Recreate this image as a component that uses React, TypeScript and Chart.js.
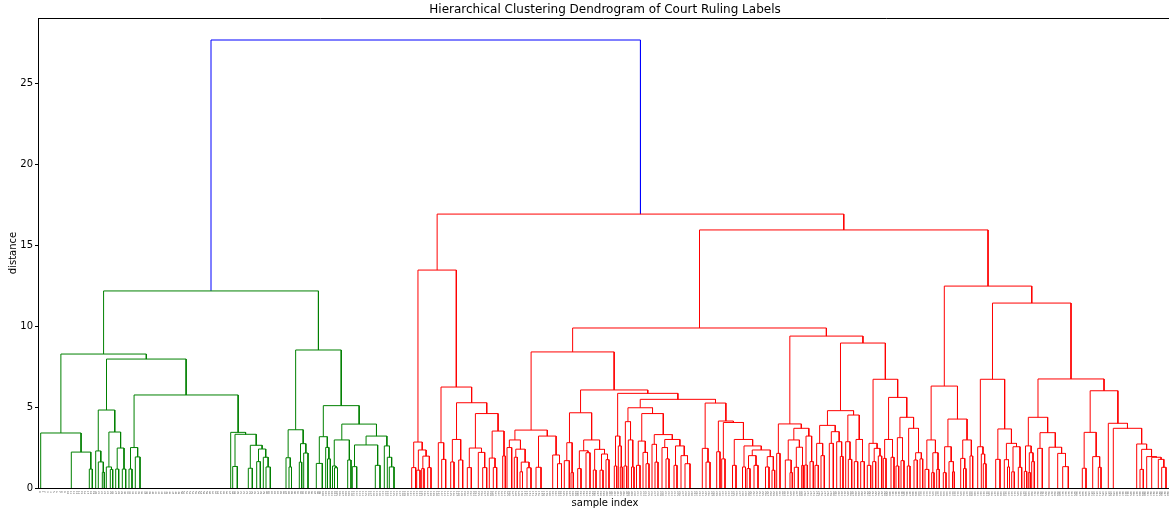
import React, { useEffect, useRef } from "react";
import { Chart, registerables } from "chart.js";

Chart.register(...registerables);

type Tree = number | [number, Tree, Tree];
const N = (h: number, a: Tree, b: Tree): Tree => [h, a, b];

const TITLE = "Hierarchical Clustering Dendrogram of Court Ruling Labels";
const X_LABEL = "sample index";
const Y_LABEL = "distance";
const Y_TICKS = [0, 5, 10, 15, 20, 25];
const Y_MAX = 29.05;
const X_MAX = 1131; // visible end of the leaf axis
const X_AXIS_END = 1134; // full extent of the leaf axis
const LEAF_COUNT = 400;
const ROOT_HEIGHT = 27.69;
const COLORS = { root: "#0000ff", green: "#008000", red: "#ff0000" };

// ---- green cluster ----
const greenLeft: Tree = N(8.28,
  N(3.40, 2.7, N(2.22, 33.3, N(1.17, 51.3, 54.3))),
  N(7.97,
    N(4.82,
      N(2.29, 57.7, N(1.61, 60.3, N(0.97, 64.3, 66.3))),
      N(3.46, N(1.30, 68.3, N(1.15, 72.3, 74.7)), N(2.47, N(1.17, 77.7, 80.7), N(1.17, 84.3, 87.7)))),
    N(5.75,
      N(2.50, N(1.17, 91, 94), N(1.92, 97.3, 102)),
      N(3.44, 192.7, N(3.32, N(1.33, 194.7, 199.3),
        N(2.64, N(1.22, 210.3, 214.3), N(2.41, N(1.63, 218.7, 222.3), N(1.90, 225.3, N(1.30, 228, 232.3)))))))));

const greenRightA: Tree = N(3.60,
  N(1.87, 248, N(1.30, 251, 253.5)),
  N(2.74, N(1.60, 261.3, 263.7), N(2.16, 265.7, 270)));

const greenRightB: Tree = N(5.09,
  N(3.17, N(1.52, 278.3, 284.3), N(2.51, 287.7, N(1.80, 289.5, 292.3))),
  N(3.95,
    N(2.97, N(1.36, 294.5, N(1.25, 296.5, 299.5)), N(1.73, 309.7, 313)),
    N(3.21,
      N(2.66, N(1.32, 314.3, 318.7), N(1.40, 337.3, 342)),
      N(2.60, 346.3, N(1.90, 349.3, N(1.30, 351.3, 356))))));

const GREEN: Tree = N(12.18, greenLeft, N(8.53, greenRightA, greenRightB));

// ---- red cluster ----
const redLeftA: Tree = N(2.84,
  N(1.26, 373.7, 377.7),
  N(2.35, N(1.10, 378.7, 382), N(1.97, N(1.20, 383.7, 386), N(1.26, 389.7, 393))));

const redLeftB: Tree = N(6.24,
  N(2.80, 400.3, N(1.77, 403.7, 407.7)),
  N(5.27,
    N(3.00, N(1.61, 412.7, 416), N(1.73, 420.7, 424.7)),
    N(4.60,
      N(2.47, N(1.26, 429.3, 433.3), N(2.20, 440.3, N(1.26, 444.7, 448.7))),
      N(3.52, N(1.85, 451.3, N(1.27, 455.3, 458.7)), N(1.98, 464.7, 467.3)))));

const redMidA1: Tree = N(3.58,
  N(2.97, N(2.50, 469, 473.7), N(2.40, N(1.90, 476.3, 479.3), N(1.60, N(1.00, 482, 484.5), N(1.25, 489, 493)))),
  N(3.21, N(1.28, 498, 503), N(2.04, 514.7, N(1.50, 519.5, 523.5))));

const redMidA2: Tree = N(4.65,
  N(2.80, N(1.69, 526.3, 531.3), N(0.95, 533, 535.3)),
  N(2.97,
    N(2.30, N(1.20, 539.7, 543), N(2.18, 548, 552)),
    N(2.39, N(1.11, 555.3, 558), N(2.10, N(1.10, 562, 565), N(1.75, 568, 571)))));

const redMidA3: Tree = N(4.96,
  N(4.10, N(1.36, 586, 588.7), N(2.97, 590.3, N(1.30, 593.5, 596))),
  N(4.60,
    N(2.90, N(1.40, 598.5, 602), N(2.20, 605, N(1.50, 608, 611))),
    N(3.30,
      N(2.70, 614, N(1.60, 617, 620)),
      N(3.00, N(2.50, 624, N(1.80, 628, 631)), N(2.60, N(1.40, 636, 639), N(2.00, 643, N(1.50, 647, 652)))))));

const redMidA4: Tree = N(5.25,
  N(2.45, 664.3, N(1.60, 668, 672)),
  N(4.14,
    N(2.24, 678.7, 682),
    N(4.05,
      N(1.80, 683.7, 687),
      N(3.00, N(1.40, 694.5, 698),
        N(2.60, N(1.30, 704.5, 707.5),
          N(2.35, N(2.00, N(1.20, 709, 712), N(1.40, 716, 720)),
            N(1.94, N(1.30, 727.5, 731), N(1.10, 734, 736.7))))))));

const redMidA: Tree = N(8.41,
  redMidA1,
  N(6.06, redMidA2,
    N(5.85, N(3.21, N(1.36, 576.3, 578.7), N(2.60, 580.3, N(1.30, 582.3, 584.3))),
      N(5.48, redMidA3, redMidA4))));

const redMidB1: Tree = N(3.96,
  N(2.14, 738.7, 742),
  N(3.69,
    N(2.97, N(1.73, 747.3, N(0.95, 752, 754.3)), N(2.52, N(1.28, 756.3, 760.3), N(1.40, 763.7, 765.3))),
    N(3.21, N(1.42, 766.7, 769.3), N(1.63, 772, 775.3))));

const redMidB2: Tree = N(4.78,
  N(3.87,
    N(2.76, N(1.40, 777, 780.3), N(2.00, 783, 786.3)),
    N(3.48, N(2.76, 791.3, 795.3), N(2.86, 798.7, N(1.95, 802.3, 805)))),
  N(4.51,
    N(2.86, 807.7, N(1.77, 810.3, 813.7)),
    N(3.00, N(1.63, 816.3, 819.7), N(1.63, 822.7, 826.3))));

const redMidB3: Tree = N(6.72,
  N(2.76, N(1.40, 829.3, 832.7), N(2.45, N(1.63, 834.7, 837.7), N(1.98, 840.3, 843.7))),
  N(5.60,
    N(3.00, N(1.83, 845.3, 848), N(1.90, 853, 856)),
    N(4.37,
      N(3.11, N(1.36, 858, 860.7), N(1.69, 863, 866)),
      N(3.69, N(1.36, 869.3, 872), N(2.18, N(1.73, 876, 879.3), N(1.80, 882, 884.7))))));

const redMidB: Tree = N(9.39, redMidB1, N(8.96, redMidB2, redMidB3));

const redRightA: Tree = N(6.30,
  N(2.97, N(1.15, 887, 890.7), N(2.18, N(0.95, 893.7, 896), N(1.15, 898.7, 901.3))),
  N(4.26,
    N(2.55, N(0.95, 905.3, 908), N(1.63, 911, N(1.00, 914.5, 916.3))),
    N(2.97, N(1.83, 922.7, N(1.20, 925.5, 928)), N(1.98, 932, 934.7))));

const redRightB: Tree = N(6.72,
  N(2.55, 939.7, N(2.10, 943.3, N(1.50, 945.3, 948))),
  N(3.65,
    N(1.77, 957.7, 962),
    N(2.76,
      N(1.75, 966.3, N(1.30, 969.5, 971.5)),
      N(2.55, N(1.00, 973.7, 976.3), N(1.28, 980.3, 983.7)))));

const redRightC: Tree = N(4.37,
  N(2.60, N(1.03, 986.3, 988.7), N(2.18, N(0.95, 990.3, 992.3), N(1.63, 993.7, 996.3))),
  N(3.42, N(2.45, 999.7, 1004.3), N(2.52, 1011, N(2.14, 1019.7, N(1.32, 1024.7, 1030.3)))));

const redRightD: Tree = N(6.01,
  N(3.44, N(1.22, 1044.3, 1048), N(1.94, 1054.7, N(1.28, 1060.3, 1063))),
  N(4.00, 1070.3,
    N(3.69, 1075.3,
      N(2.72, 1098.7,
        N(2.39, N(1.15, 1102, 1105.3),
          N(1.94, 1108.7, N(1.90, 1113.7, N(1.77, 1120.3, N(1.28, 1123.7, 1128)))))))));

const redRight: Tree = N(12.48, redRightA, N(11.43, redRightB, N(6.74, redRightC, redRightD)));

const RED: Tree = N(16.93,
  N(13.47, redLeftA, redLeftB),
  N(15.95, N(9.89, redMidA, redMidB), redRight));

type Pt = { x: number; y: number | null };

function layout(node: Tree, out: Pt[]): { x: number; h: number } {
  if (typeof node === "number") return { x: node, h: 0 };
  const [h, a, b] = node;
  const l = layout(a, out);
  const r = layout(b, out);
  out.push({ x: l.x, y: l.h }, { x: l.x, y: h }, { x: r.x, y: h }, { x: r.x, y: r.h }, { x: r.x, y: null });
  return { x: (l.x + r.x) / 2, h };
}

export default function App() {
  const ref = useRef<HTMLCanvasElement>(null);

  useEffect(() => {
    const greenPts: Pt[] = [];
    const redPts: Pt[] = [];
    const g = layout(GREEN, greenPts);
    const r = layout(RED, redPts);
    const rootPts: Pt[] = [
      { x: g.x, y: g.h },
      { x: g.x, y: ROOT_HEIGHT },
      { x: r.x, y: ROOT_HEIGHT },
      { x: r.x, y: r.h },
    ];

    const leafLabels = Array.from({ length: LEAF_COUNT }, (_, i) => String(i));

    const framePlugin = {
      id: "frame",
      afterDraw(chart: any) {
        const { ctx, chartArea: a, scales } = chart;
        const xs = scales.x;
        ctx.save();
        ctx.strokeStyle = "#000";
        ctx.lineWidth = 1;
        ctx.beginPath();
        ctx.moveTo(a.left, Math.round(a.top) + 0.5);
        ctx.lineTo(a.right, Math.round(a.top) + 0.5);
        ctx.stroke();

        ctx.fillStyle = "#000";
        const cx = xs.getPixelForValue(X_AXIS_END / 2);
        ctx.font = '12px "DejaVu Sans"';
        ctx.textAlign = "center";
        ctx.textBaseline = "alphabetic";
        ctx.fillText(TITLE, cx, a.top - 5);

        ctx.font = '10px "DejaVu Sans"';
        ctx.textBaseline = "middle";
        ctx.fillText(X_LABEL, cx, a.bottom + 15);

        ctx.save();
        ctx.translate(13, (a.top + a.bottom) / 2);
        ctx.rotate(-Math.PI / 2);
        ctx.fillText(Y_LABEL, 0, 0);
        ctx.restore();

        // tiny leaf labels
        ctx.fillStyle = "#555";
        ctx.font = '2.5px "DejaVu Sans"';
        ctx.textAlign = "left";
        ctx.textBaseline = "middle";
        leafLabels.forEach((lab, i) => {
          const px = xs.getPixelForValue(((i + 0.5) * X_AXIS_END) / LEAF_COUNT);
          if (px > a.right) return;
          ctx.save();
          ctx.translate(px, a.bottom + 3);
          ctx.rotate(Math.PI / 2);
          ctx.fillText(lab, 0, 0);
          ctx.restore();
        });
        ctx.restore();
      },
    };

    const mk = (data: Pt[], color: string) => ({
      data,
      borderColor: color,
      backgroundColor: color,
      borderWidth: 1,
      showLine: true,
      spanGaps: false,
      pointRadius: 0,
      pointHoverRadius: 0,
      tension: 0,
    });

    const chart = new Chart(ref.current as HTMLCanvasElement, {
      type: "scatter",
      data: {
        datasets: [mk(greenPts, COLORS.green), mk(redPts, COLORS.red), mk(rootPts, COLORS.root)] as any,
      },
      options: {
        animation: false,
        responsive: false,
        devicePixelRatio: 1,
        layout: { padding: { top: 18, left: 0, right: 0, bottom: 0 } },
        plugins: { legend: { display: false }, tooltip: { enabled: false } },
        events: [],
        scales: {
          x: {
            type: "linear",
            min: 0,
            max: X_MAX,
            grid: { display: false },
            border: { display: true, color: "#000", width: 1 },
            ticks: { display: false },
            afterFit: (s: any) => {
              s.height = 20;
            },
          },
          y: {
            type: "linear",
            min: 0,
            max: Y_MAX,
            afterBuildTicks: (s: any) => {
              s.ticks = Y_TICKS.map((v) => ({ value: v }));
            },
            grid: { display: true, drawOnChartArea: false, drawTicks: true, tickLength: 3, color: "#000" },
            border: { display: true, color: "#000", width: 1 },
            ticks: {
              color: "#000",
              padding: 2,
              font: { family: "DejaVu Sans", size: 10 },
              callback: (v: any) => String(v),
            },
            afterFit: (s: any) => {
              s.width = 38;
            },
          },
        },
      },
      plugins: [framePlugin],
    } as any);

    return () => chart.destroy();
  }, []);

  return (
    <div style={{ position: "fixed", left: 0, top: 0, width: 1169, height: 508, background: "#fff" }}>
      <canvas ref={ref} width={1169} height={508} style={{ display: "block", width: 1169, height: 508 }} />
    </div>
  );
}
